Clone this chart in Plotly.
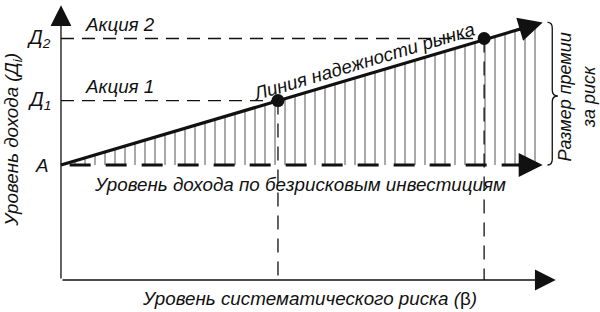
import plotly.graph_objects as go

# ---- data (semantic units: beta on x, return level on y) ----
risk_free = 5.0                      # A
stock_names = ["Акция 1", "Акция 2"]
stock_beta = [1.0, 1.95]
stock_return = [7.8, 10.5]           # Д1, Д2
return_labels = ["Д<sub>1</sub>", "Д<sub>2</sub>"]
sml_beta = [0.0, 2.22]               # security market line start / arrow tip
sml_return = [5.0, 11.2]
axis_beta_max = 2.28
axis_return_max = 11.95

FONT = "Liberation Sans"
INK = "#111111"
fs = 18.8

fig = go.Figure()

# hatched area between risk-free line and market line
fig.add_trace(go.Scatter(x=sml_beta, y=[risk_free, risk_free], mode="lines",
                         line=dict(width=0, color="rgba(0,0,0,0)"), hoverinfo="skip"))
fig.add_trace(go.Scatter(x=sml_beta, y=sml_return, mode="lines",
                         line=dict(width=0, color="rgba(0,0,0,0)"),
                         fill="tonexty", fillcolor="rgba(0,0,0,0)",
                         fillpattern=dict(shape="|", size=10, solidity=0.15,
                                          fgcolor="#1a1a1a", bgcolor="rgba(0,0,0,0)"),
                         hoverinfo="skip"))

# dashed guide lines
for b, r in zip(stock_beta, stock_return):
    fig.add_trace(go.Scatter(x=[0, b], y=[r, r], mode="lines",
                             line=dict(color="#111", width=1.3, dash="13px,8px"), hoverinfo="skip"))
    fig.add_trace(go.Scatter(x=[b, b], y=[r, 0], mode="lines",
                             line=dict(color="#111", width=1.3, dash="14px,9px"), hoverinfo="skip"))

# risk-free thick dashed line
fig.add_trace(go.Scatter(x=[0.04, sml_beta[1] - 0.06], y=[risk_free, risk_free], mode="lines",
                         line=dict(color=INK, width=3, dash="21px,15px"), hoverinfo="skip"))
# market line
fig.add_trace(go.Scatter(x=[sml_beta[0], sml_beta[1] - 0.05],
                         y=[sml_return[0], sml_return[1] - (sml_return[1] - sml_return[0]) * 0.05 / sml_beta[1]],
                         mode="lines", line=dict(color=INK, width=3.2), hoverinfo="skip"))
# stock points
fig.add_trace(go.Scatter(x=stock_beta, y=stock_return, mode="markers",
                         marker=dict(size=13, color=INK), hoverinfo="skip"))

ann = []
def arrow(x, y, ax, ay, w, size):
    ann.append(dict(x=x, y=y, ax=ax, ay=ay, xref="x", yref="y", axref="x", ayref="y",
                    showarrow=True, arrowhead=2, arrowwidth=w, arrowsize=size,
                    arrowcolor=INK, text=""))

# axes
arrow(0, axis_return_max, 0, 0, 1.3, 3.2)
arrow(axis_beta_max, 0, 0, 0, 1.3, 3.2)
# arrowheads of market line and risk-free line
arrow(sml_beta[1], sml_return[1], sml_beta[1] - 0.12,
      sml_return[1] - (sml_return[1] - sml_return[0]) * 0.12 / sml_beta[1], 3, 1.6)
arrow(sml_beta[1], risk_free, sml_beta[1] - 0.12, risk_free, 3, 1.6)

def txt(x, y, s, **kw):
    d = dict(x=x, y=y, xref="x", yref="y", text="<i>" + s + "</i>", showarrow=False,
             font=dict(family=FONT, size=kw.pop("size", fs), color=INK))
    d.update(kw)
    ann.append(d)

for name, r in zip(stock_names, stock_return):
    txt(0.10, r + 0.62, name, xanchor="left", yanchor="middle")
for lab, r in zip(return_labels, stock_return):
    txt(-0.035, r, lab, xanchor="right", yanchor="middle", size=19.5)
txt(-0.045, risk_free, "A", xanchor="right", yanchor="middle")
txt(-0.221, 6.1, "Уровень дохода (Д<sub>i</sub>)", textangle=-90)
txt(1.147, -0.8, "Уровень систематического риска (</i>β<i>)")
txt(1.101, 4.17, "Уровень дохода по безрисковым инвестициям")
txt(1.396, 9.48, "Линия надежности рынка", textangle=-16.6)
txt(2.375, 7.95, "Размер премии<br>за риск", textangle=-90, size=18)

# brace on the right
x0, xm, xp = 2.242, 2.264, 2.290
ytop, ybot = sml_return[1], risk_free
ymid = 8.0
r = 0.25
brace = (f"M {x0},{ytop} Q {xm},{ytop} {xm},{ytop - r} L {xm},{ymid + r} "
         f"Q {xm},{ymid} {xp},{ymid} Q {xm},{ymid} {xm},{ymid - r} "
         f"L {xm},{ybot + r} Q {xm},{ybot} {x0},{ybot}")

fig.update_layout(
    width=600, height=312, margin=dict(l=0, r=0, t=0, b=0),
    paper_bgcolor="white", plot_bgcolor="white", showlegend=False,
    xaxis=dict(range=[-0.281, 2.484], visible=False, fixedrange=True),
    yaxis=dict(range=[-1.391, 12.174], visible=False, fixedrange=True),
    annotations=ann,
    shapes=[dict(type="path", path=brace, xref="x", yref="y",
                 line=dict(color=INK, width=1.3))],
)

fig.write_html("out.html")
